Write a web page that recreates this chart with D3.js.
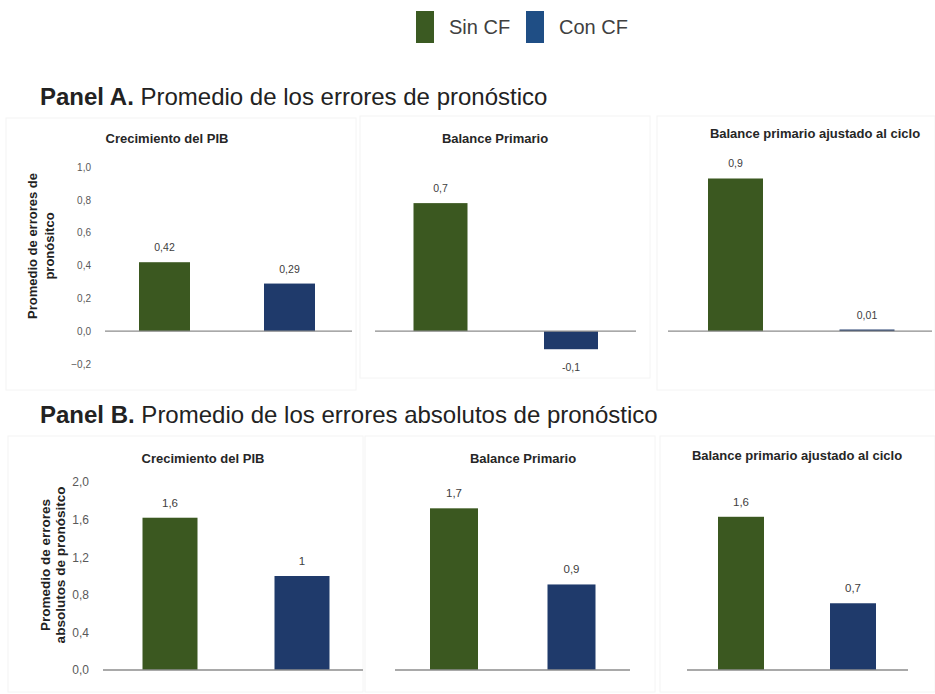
<!DOCTYPE html>
<html>
<head>
<meta charset="utf-8">
<script src="https://cdn.jsdelivr.net/npm/d3@7"></script>
<style>
  html, body { margin: 0; padding: 0; background: #ffffff; }
  svg { display: block; }
</style>
</head>
<body>
<svg id="chart" width="935" height="694"></svg>
<script>
// ---------------- DATA ----------------
const series = ["Sin CF", "Con CF"];
const chartTitles = ["Crecimiento del PIB", "Balance Primario", "Balance primario  ajustado al ciclo"];

// Panel A: promedio de los errores de pronóstico
const panelAValues = [
  [0.42, 0.29],   // Crecimiento del PIB
  [0.78, -0.11],  // Balance Primario
  [0.93, 0.01]    // Balance primario ajustado al ciclo
];
const panelALabels = [["0,42", "0,29"], ["0,7", "-0,1"], ["0,9", "0,01"]];
const panelATicks = [-0.2, 0.0, 0.2, 0.4, 0.6, 0.8, 1.0];

// Panel B: promedio de los errores absolutos de pronóstico
const panelBValues = [
  [1.62, 1.0],
  [1.72, 0.91],
  [1.63, 0.71]
];
const panelBLabels = [["1,6", "1"], ["1,7", "0,9"], ["1,6", "0,7"]];
const panelBTicks = [0.0, 0.4, 0.8, 1.2, 1.6, 2.0];

const colors = { "Sin CF": "#3b5820", "Con CF": "#1f3a6b" };
const legendColors = { "Sin CF": "#3b5a22", "Con CF": "#1f4e85" };

// ---------------- LAYOUT ----------------
const svg = d3.select("#chart");
const FONT = "'Liberation Sans', Arial, sans-serif";
const NARROW = "'Liberation Sans Narrow', 'Liberation Sans', Arial, sans-serif";
const locale = d3.formatLocale({ decimal: ",", thousands: ".", grouping: [3], currency: ["", ""] });
const fmt = locale.format(".1f");

// faint panel frames
const frames = [
  [6, 118, 350, 272], [360, 116, 290, 262], [657, 116, 278, 274],
  [8, 436, 355, 256], [365, 436, 290, 256], [660, 436, 275, 256]
];
svg.append("g").selectAll("rect").data(frames).join("rect")
  .attr("x", d => d[0]).attr("y", d => d[1]).attr("width", d => d[2]).attr("height", d => d[3])
  .attr("fill", "none").attr("stroke", "#f4f4f4").attr("stroke-width", 1);

// Legend
const legend = svg.append("g");
const legendX = d3.scalePoint().domain(series).range([416, 526]);
legend.selectAll("rect").data(series).join("rect")
  .attr("x", d => legendX(d)).attr("y", 11).attr("width", 18).attr("height", 32)
  .attr("fill", d => legendColors[d]);
legend.selectAll("text").data(series).join("text")
  .attr("x", d => legendX(d) + 33).attr("y", 34)
  .attr("font-family", NARROW).attr("font-size", 20).attr("fill", "#404040")
  .text(d => d);

// Panel headings
function heading(y, bold, rest) {
  const t = svg.append("text").attr("x", 40).attr("y", y)
    .attr("font-family", FONT).attr("font-size", 24).attr("fill", "#222");
  t.append("tspan").attr("font-weight", "bold").text(bold);
  t.append("tspan").text(rest);
}
heading(105, "Panel A.", " Promedio de los errores de pronóstico");
heading(423, "Panel B.", " Promedio de los errores absolutos de pronóstico");

// ---------------- PANELS ----------------
function drawRow(cfg) {
  const y = d3.scaleLinear().domain(cfg.domain).range(cfg.range);

  // y axis only on first chart
  const ax = svg.append("g").attr("transform", `translate(${cfg.axisX},0)`)
    .call(d3.axisLeft(y).tickValues(cfg.ticks).tickSize(0).tickPadding(0).tickFormat(fmt));
  ax.select(".domain").remove();
  ax.selectAll("text").attr("font-family", FONT).attr("font-size", cfg.tickSize).attr("fill", "#595959");

  // y axis title (two lines, rotated)
  const yt = svg.append("text")
    .attr("transform", `translate(${cfg.yTitleX},${cfg.yTitleY}) rotate(-90)`)
    .attr("text-anchor", "middle").attr("font-family", FONT).attr("font-weight", "bold")
    .attr("font-size", cfg.yTitleSize).attr("fill", "#222");
  cfg.yTitle.forEach((line, i) => {
    yt.append("tspan").attr("x", 0).attr("dy", i === 0 ? 0 : cfg.yTitleLH).text(line);
  });

  cfg.charts.forEach((c, ci) => {
    const g = svg.append("g");
    const x = d3.scalePoint().domain(series).range(c.centers);
    const data = series.map((s, i) => ({ s, v: cfg.values[ci][i], label: cfg.labels[ci][i] }));

    // title
    g.append("text").attr("x", c.titleX).attr("y", c.titleY).attr("text-anchor", "middle")
      .attr("font-family", FONT).attr("font-weight", "bold").attr("font-size", 13)
      .attr("fill", "#262626").text(chartTitles[ci]);

    // bars
    g.selectAll("rect.bar").data(data).join("rect").attr("class", "bar")
      .attr("x", d => x(d.s) - c.bw / 2)
      .attr("width", c.bw)
      .attr("y", d => Math.min(y(d.v), y(0)))
      .attr("height", d => Math.max(1.5, Math.abs(y(d.v) - y(0))))
      .attr("fill", d => colors[d.s]);

    // baseline
    g.append("line").attr("x1", c.base[0]).attr("x2", c.base[1])
      .attr("y1", y(0)).attr("y2", y(0)).attr("stroke", "#8c8c8c").attr("stroke-width", 1.3);

    // value labels
    g.selectAll("text.val").data(data).join("text").attr("class", "val")
      .attr("x", d => x(d.s))
      .attr("y", d => d.v >= 0 ? y(d.v) - cfg.labelGap : y(d.v) + cfg.labelGapNeg)
      .attr("text-anchor", "middle").attr("font-family", FONT)
      .attr("font-size", cfg.valSize).attr("fill", "#404040")
      .text(d => d.label);
  });
}

drawRow({
  domain: [-0.2, 1.0], range: [364, 167], ticks: panelATicks, tickSize: 10, axisX: 91,
  yTitle: ["Promedio de errores de", "pronósitco"], yTitleX: 37, yTitleY: 246, yTitleSize: 13, yTitleLH: 17,
  values: panelAValues, labels: panelALabels, labelGap: 11, labelGapNeg: 22, valSize: 10.5,
  charts: [
    { centers: [164.5, 289.5], bw: 51, base: [105, 352], titleX: 167, titleY: 143 },
    { centers: [440.5, 571], bw: 54, base: [375, 636], titleX: 495, titleY: 143 },
    { centers: [735.5, 867], bw: 55, base: [668, 932], titleX: 815, titleY: 138 }
  ]
});

drawRow({
  domain: [0, 2.0], range: [670, 482], ticks: panelBTicks, tickSize: 12, axisX: 89,
  yTitle: ["Promedio de errores", "absolutos de pronósitco"], yTitleX: 50, yTitleY: 565, yTitleSize: 13.5, yTitleLH: 15,
  values: panelBValues, labels: panelBLabels, labelGap: 11, labelGapNeg: 20, valSize: 11.5,
  charts: [
    { centers: [170, 302], bw: 55, base: [103, 363], titleX: 203, titleY: 463 },
    { centers: [454, 571.5], bw: 48, base: [395, 630], titleX: 523, titleY: 463 },
    { centers: [741, 853], bw: 46, base: [687, 908], titleX: 797, titleY: 460 }
  ]
});
</script>
</body>
</html>
